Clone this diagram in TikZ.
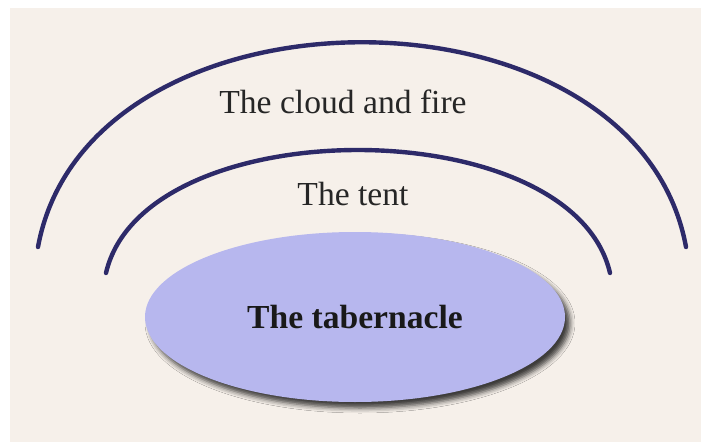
\documentclass[tikz,border=0pt]{standalone}
\usepackage{fontspec}
\setmainfont{Liberation Serif}
\usetikzlibrary{shapes.geometric,shadows.blur}

\definecolor{paper}{RGB}{246,240,234}
\definecolor{arcblue}{RGB}{45,42,105}
\definecolor{lavender}{RGB}{183,183,238}

\tikzset{
    arcline/.style={arcblue, line width=2.2pt, line cap=round},
    label/.style={anchor=base, text=black!85, font=\fontsize{16.8}{20}\selectfont},
}

\begin{document}
\begin{tikzpicture}[x=0.5pt, y=-0.5pt]
            \useasboundingbox (0, 0) rectangle (701, 444);
            \fill[white] (0, 0) rectangle (701, 444);
            \fill[paper] (10, 8) rectangle (701, 442);

            \coordinate (OL) at (38, 247);
            \coordinate (OR) at (686, 247);
            \coordinate (IL) at (106, 273);
            \coordinate (IR) at (610, 273);

            \draw[arcline] (OL) .. controls (88, -26) and (636, -26) .. (OR);
            \draw[arcline] (IL) .. controls (144, 109) and (572, 109) .. (IR);

            \node[label] (cloud) at (343, 113) { The cloud and fire };
            \node[label] (tent) at (353, 205) { The tent };

            \node[ellipse, fill=lavender, inner sep=0pt,
                  minimum width=210pt, minimum height=85pt,
                  blur shadow={shadow xshift=2.5pt, shadow yshift=-3pt,
                               shadow blur radius=2.5pt, shadow opacity=75},
                  font=\fontsize{16.8}{20}\selectfont\bfseries, text=black!90]
                (tabernacle) at (355, 317) { The tabernacle };

        \end{tikzpicture}
\end{document}
